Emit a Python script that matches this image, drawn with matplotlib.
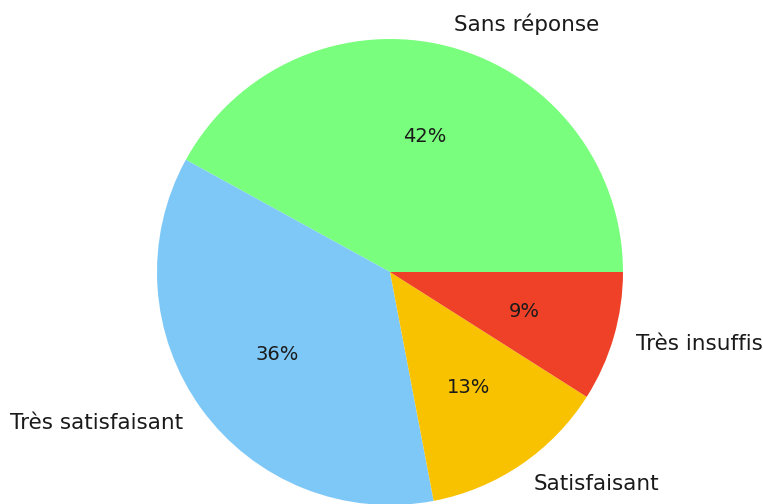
import matplotlib.pyplot as plt

labels = ["Sans réponse", "Très satisfaisant", "Satisfaisant", "Très insuffisant"]
values = [42, 36, 13, 9]
colors = ["#79ff7d", "#7ec8f7", "#f8c200", "#ee4128"]

fig = plt.figure(figsize=(7.63, 5.04), dpi=100)
ax = fig.add_axes([0, 0, 1, 1])
wedges, texts, autotexts = ax.pie(values, labels=labels, colors=colors,
                                  autopct="%1.0f%%", startangle=0,
                                  textprops={"color": "#1a1a1a"})
for t in texts:
    t.set_fontsize(15.5)
for t in autotexts:
    t.set_fontsize(14)
# place the pie like in the reference: centre (390, 272) px, radius 233 px
r = 233.0
ax.set_xlim(-390 / r, (763 - 390) / r)
ax.set_ylim(-(504 - 272) / r, 272 / r)
ax.set_aspect("equal")
ax.axis("off")
fig.savefig("out.png", dpi=100)
